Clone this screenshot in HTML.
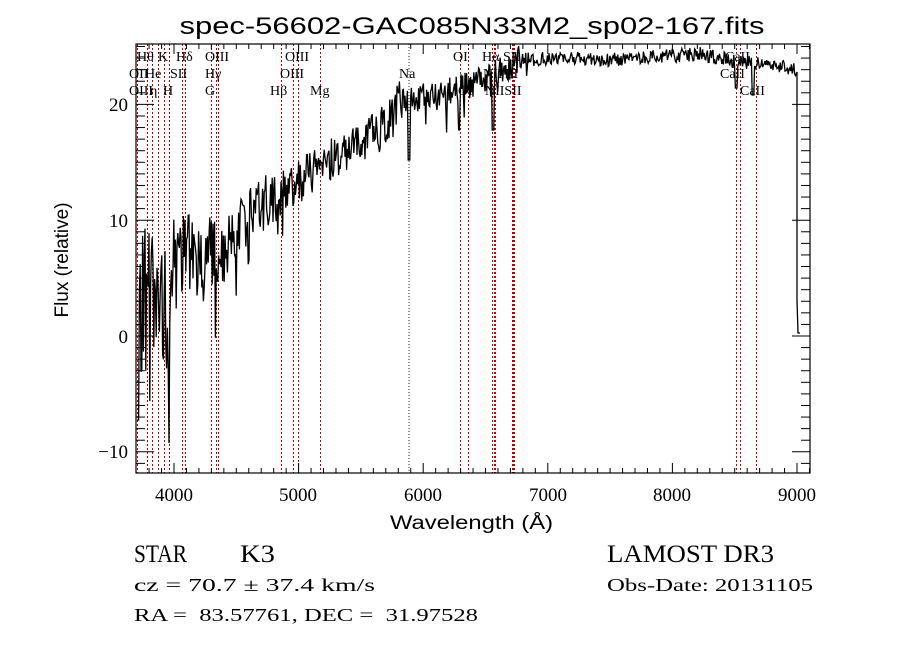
<!DOCTYPE html>
<html><head><meta charset="utf-8">
<style>
html,body{margin:0;padding:0;background:#fff;width:900px;height:649px;overflow:hidden}
svg{display:block}
text{font-family:"Liberation Serif",serif;fill:#000}
.m{font-family:"Liberation Sans",sans-serif}
.l{font-size:14px}
</style></head><body>
<svg id="s" width="900" height="649" viewBox="0 0 900 649" xmlns="http://www.w3.org/2000/svg">
<rect width="900" height="649" fill="#fff"/>
<text x="472" y="34" text-anchor="middle" class="m" font-size="24" textLength="585" lengthAdjust="spacingAndGlyphs">spec-56602-GAC085N33M2_sp02-167.fits</text>
<g id="red" stroke="#c00000" stroke-width="1" stroke-dasharray="2,2"></g>
<line x1="409" y1="44" x2="409" y2="473" stroke="#333" stroke-dasharray="1,2"/>
<path id="spec" fill="none" stroke="#000" stroke-width="1.3"/>
<rect x="136" y="44" width="674" height="429" fill="none" stroke="#000" stroke-width="1.2"/>
<g id="ticks" stroke="#000" stroke-width="1"></g>
<g class="l">
<text x="137" y="61">Hθ</text><text x="158" y="61">K</text><text x="176" y="61">Hδ</text><text x="205" y="61">OIII</text><text x="285" y="61">OIII</text>
<text x="129" y="78">OII</text><text x="145" y="78">He</text><text x="170" y="78">SII</text><text x="205" y="78">Hγ</text><text x="280" y="78">OIII</text>
<text x="129" y="95">OIII</text><text x="150" y="95">η</text><text x="163" y="95">H</text><text x="205" y="95">G</text><text x="270" y="95">Hβ</text><text x="310" y="95">Mg</text>
<text x="399" y="78">Na</text><text x="453" y="61">OI</text><text x="482" y="61">Hα</text><text x="503" y="61">SII</text>
<text x="483" y="78">NII</text><text x="505" y="78">LI</text>
<text x="458" y="95">OI</text><text x="485" y="95">NIISII</text>
<text x="725" y="61">CaII</text><text x="720" y="78">CaII</text><text x="740" y="95">CaII</text>
</g>
<text x="0" y="0" transform="translate(68,260) rotate(-90)" text-anchor="middle" class="m" font-size="19">Flux (relative)</text>
<g class="m" font-size="19" text-anchor="end">
<text x="128" y="111">20</text><text x="128" y="227">10</text><text x="128" y="343">0</text><text x="128" y="458">−10</text>
</g>
<g class="m" font-size="19" text-anchor="middle">
<text x="174" y="501">4000</text><text x="298" y="501">5000</text><text x="423" y="501">6000</text><text x="548" y="501">7000</text><text x="672" y="501">8000</text><text x="797" y="501">9000</text>
</g>
<text x="390" y="529" class="m" font-size="19" textLength="163" lengthAdjust="spacingAndGlyphs">Wavelength (Å)</text>
<text x="134" y="562" font-size="25" textLength="53" lengthAdjust="spacingAndGlyphs">STAR</text>
<text x="240" y="562" font-size="25" textLength="35" lengthAdjust="spacingAndGlyphs">K3</text>
<text x="607" y="562" font-size="25" textLength="167" lengthAdjust="spacingAndGlyphs">LAMOST DR3</text>
<text x="134" y="591" font-size="18" textLength="241" lengthAdjust="spacingAndGlyphs">cz = 70.7 ± 37.4 km/s</text>
<text x="607" y="591" font-size="18" textLength="206" lengthAdjust="spacingAndGlyphs">Obs-Date: 20131105</text>
<text x="134" y="621" font-size="18" textLength="344" lengthAdjust="spacingAndGlyphs" xml:space="preserve">RA =  83.57761, DEC =  31.97528</text>
</svg>
<script>
var NS="http://www.w3.org/2000/svg";
function X(w){return 174+(w-4000)*0.1246;}
function Y(f){return 336-f*11.58;}
function ln(g,x1,y1,x2,y2){var l=document.createElementNS(NS,"line");l.setAttribute("x1",x1);l.setAttribute("y1",y1);l.setAttribute("x2",x2);l.setAttribute("y2",y2);g.appendChild(l);}
var red=document.getElementById("red");
[137,147,152,158,164,169,182,185,211,216,218,281,293,298,320,460,468,492,494,495,512,513,514,736,740,756].forEach(function(x){ln(red,x+0.5,44,x+0.5,473);});
var t=document.getElementById("ticks");
for(var w=3800;w<=9100;w+=100){var x=X(w);var maj=(w%1000==0);var L=maj?10:5;ln(t,x,473,x,473-L);ln(t,x,44,x,44+L);}
for(var f=-11;f<=25;f++){var y=Y(f);var maj=(f%10==0);var L=maj?18:9;ln(t,136,y,136+L,y);ln(t,810,y,810-L,y);}
var cp=[[138,300],[150,300],[160,310],[168,315],[175,280],[185,255],[200,270],[215,255],[230,230],[250,215],[270,200],[300,180],[340,155],[380,130],[400,100],[440,95],[470,85],[500,72],[520,60],[560,58],[600,60],[650,57],[700,54],[740,62],[770,64],[795,70]];
function cont(x){for(var i=0;i<cp.length-1;i++){if(x<=cp[i+1][0]){var a=cp[i],b=cp[i+1];return a[1]+(b[1]-a[1])*(x-a[0])/(b[0]-a[0]);}}return cp[cp.length-1][1];}
var s=987654321;
function rnd(){s|=0;s=s+0x6D2B79F5|0;var q=Math.imul(s^s>>>15,1|s);q=q+Math.imul(q^q>>>7,61|q)^q;return ((q^q>>>14)>>>0)/4294967296;}
var d="";var first=true;
for(var x=137;x<=796;x+=0.8){
 var amp=x<175?150:(x<230?90:(x<280?60:(x<400?45:(x<520?30:14))));
 var y=cont(x)+(rnd()-0.5)*amp;
 if(rnd()<0.04&&x<530)y+=amp*(0.3+0.6*rnd());
 if(Math.abs(x-409)<1)y=160;
 if(Math.abs(x-459)<1)y=130;
 if(Math.abs(x-493)<1)y=130;
 if(Math.abs(x-736)<1)y=88;
 if(Math.abs(x-753)<1)y=95;
 if(x<139)y=420;
 y=Math.max(46,Math.min(470,y));
 d+=(first?"M":"L")+x.toFixed(1)+","+y.toFixed(1);first=false;
}
d+="L797,72L797,115L797,300L798,333L800,333";
document.getElementById("spec").setAttribute("d",d);
</script>
</body></html>
